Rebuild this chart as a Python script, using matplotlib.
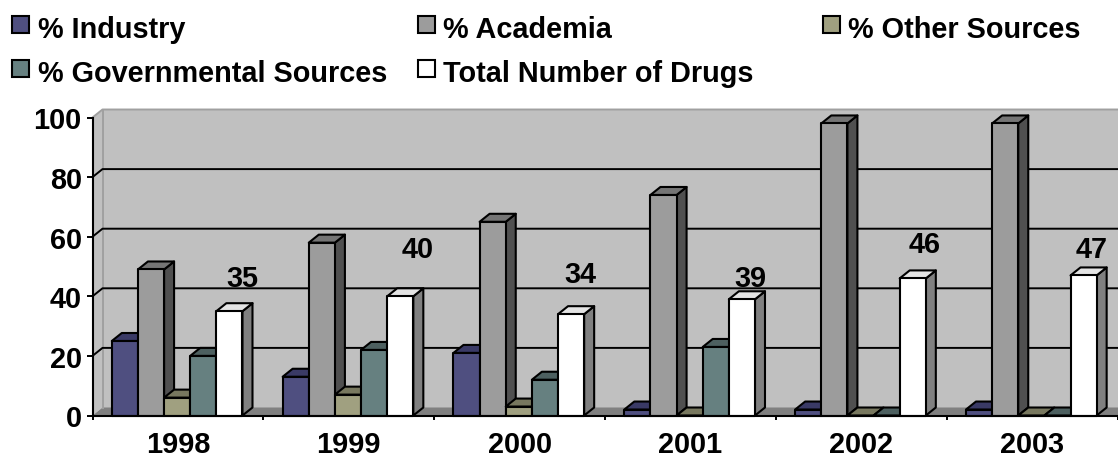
#!/usr/bin/env python3
# -*- coding: utf-8 -*-
"""
Drug origin by source per year, drawn as a pseudo-3D clustered bar chart.
"""
import matplotlib

matplotlib.use("Agg")
from matplotlib import pyplot as plt
from matplotlib.patches import Polygon, Rectangle

plt.rcParams["font.family"] = ["Liberation Sans", "DejaVu Sans"]
plt.rcParams["font.weight"] = "bold"

years = ["1998", "1999", "2000", "2001", "2002", "2003"]
industry = [25, 13, 21, 2, 2, 2]
academia = [49, 58, 65, 74, 98, 98]
other_sources = [6, 7, 3, 0, 0, 0]
governmental = [20, 22, 12, 23, 0, 0]
total_drugs = [35, 40, 34, 39, 46, 47]
y_ticks = [0, 20, 40, 60, 80, 100]

series_names = [
    "% Industry",
    "% Academia",
    "% Other Sources",
    "% Governmental Sources",
    "Total Number of Drugs",
]

# (front, top, side)
series_colors = [
    ("#4F4F80", "#3A3A66", "#3A3A66"),
    ("#9C9C9C", "#757575", "#505050"),
    ("#A0A080", "#78785F", "#5F5F4A"),
    ("#668080", "#4D6060", "#405050"),
    ("#FFFFFF", "#E4E4E4", "#808080"),
]

figW, figH = 1118, 456
axLeft, axRight, axTop, axBottom = 92.5, 1117.5, 118.5, 416.5
fontSize = 20.8

# depth of the fake 3D box, in data units
depthX = 10 / 170.8
depthY = 8 / 2.98
barWidth = 0.153
groupStart = 0.113

# where the total labels sit (x in category units, y in value units)
labelX = [0.875, 1.905, 2.855, 3.85, 4.87, 5.85]
labelY = [46.2, 55.8, 47.4, 46.2, 57.5, 55.9]

# legend layout in pixels: box left, box top, text left
legendSlots = [
    (12, 17, 38),
    (418, 17, 443),
    (823, 17, 848),
    (12, 61, 38),
    (418, 61, 443),
]


def drawBar(ax, x, value, colors):
    front, top, side = colors
    x2 = x + barWidth
    kw = dict(edgecolor="k", linewidth=1.5, joinstyle="round", clip_on=False)
    ax.add_patch(
        Polygon(
            [(x2, 0), (x2 + depthX, depthY), (x2 + depthX, value + depthY), (x2, value)],
            facecolor=side,
            zorder=3,
            **kw,
        )
    )
    ax.add_patch(
        Polygon(
            [(x, value), (x2, value), (x2 + depthX, value + depthY), (x + depthX, value + depthY)],
            facecolor=top,
            zorder=3,
            **kw,
        )
    )
    ax.add_patch(Rectangle((x, 0), barWidth, value, facecolor=front, zorder=3, **kw))


def main():
    fig = plt.figure(figsize=(figW / 100, figH / 100), dpi=100)
    ax = fig.add_axes(
        [
            axLeft / figW,
            1 - axBottom / figH,
            (axRight - axLeft) / figW,
            (axBottom - axTop) / figH,
        ]
    )
    ax.set_xlim(0, len(years))
    ax.set_ylim(0, 100)
    ax.patch.set_visible(False)

    # walls and floor
    n = len(years)
    ax.add_patch(
        Polygon(
            [(depthX, depthY), (n + depthX, depthY), (n + depthX, 100 + depthY), (depthX, 100 + depthY)],
            facecolor="#C0C0C0",
            edgecolor="none",
            clip_on=False,
            zorder=1,
        )
    )
    ax.add_patch(
        Polygon(
            [(0, 0), (depthX, depthY), (depthX, 100 + depthY), (0, 100)],
            facecolor="#C0C0C0",
            edgecolor="none",
            clip_on=False,
            zorder=1,
        )
    )
    ax.add_patch(
        Polygon(
            [(0, 0), (n, 0), (n + depthX, depthY), (depthX, depthY)],
            facecolor="#808080",
            edgecolor="none",
            clip_on=False,
            zorder=1,
        )
    )
    ax.plot(
        [0, depthX, depthX, n + depthX],
        [100, 100 + depthY, 100 + depthY, 100 + depthY],
        color="#A0A0A0",
        lw=1.4,
        clip_on=False,
        zorder=1.5,
    )
    ax.plot([depthX, depthX], [depthY, 100 + depthY], color="#A0A0A0", lw=1.4, clip_on=False, zorder=1.5)

    # gridlines run along the back wall and slant down the side wall
    for tick in y_ticks[1:-1]:
        ax.plot(
            [0, depthX, n + depthX],
            [tick, tick + depthY, tick + depthY],
            color="k",
            lw=1.4,
            clip_on=False,
            zorder=2,
        )

    allSeries = [industry, academia, other_sources, governmental, total_drugs]
    for i in range(n):
        for j, values in enumerate(allSeries):
            x = i + groupStart + j * barWidth
            drawBar(ax, x, values[i], series_colors[j])

    for i, total in enumerate(total_drugs):
        ax.text(
            labelX[i],
            labelY[i],
            str(total),
            ha="center",
            va="center",
            fontsize=fontSize,
            color="k",
            zorder=5,
            clip_on=False,
        )

    for name in ["top", "right"]:
        ax.spines[name].set_visible(False)
    for name in ["left", "bottom"]:
        ax.spines[name].set_linewidth(1.5)
        ax.spines[name].set_zorder(4)

    ax.set_yticks(y_ticks)
    ax.set_xticks(range(n + 1))
    ax.set_xticklabels([""] * (n + 1))
    ax.tick_params(axis="x", length=3, width=1.4, color="k")
    ax.tick_params(axis="y", length=4.3, width=1.4, color="k", labelsize=fontSize, pad=3.5)
    for i, year in enumerate(years):
        ax.text(i + 0.5, -9.5, year, ha="center", va="center", fontsize=fontSize, color="k")

    # legend boxes placed by hand on the figure
    for (boxX, boxY, textX), name, colors in zip(legendSlots, series_names, series_colors):
        fig.add_artist(
            Rectangle(
                (boxX / figW, 1 - (boxY + 16.5) / figH),
                16.5 / figW,
                16.5 / figH,
                transform=fig.transFigure,
                facecolor=colors[0],
                edgecolor="k",
                linewidth=1.5,
            )
        )
        fig.text(textX / figW, 1 - (boxY + 12.5) / figH, name, ha="left", va="center", fontsize=fontSize, color="k")

    fig.savefig("out.png", dpi=100)
    plt.close()


if __name__ == "__main__":
    main()
